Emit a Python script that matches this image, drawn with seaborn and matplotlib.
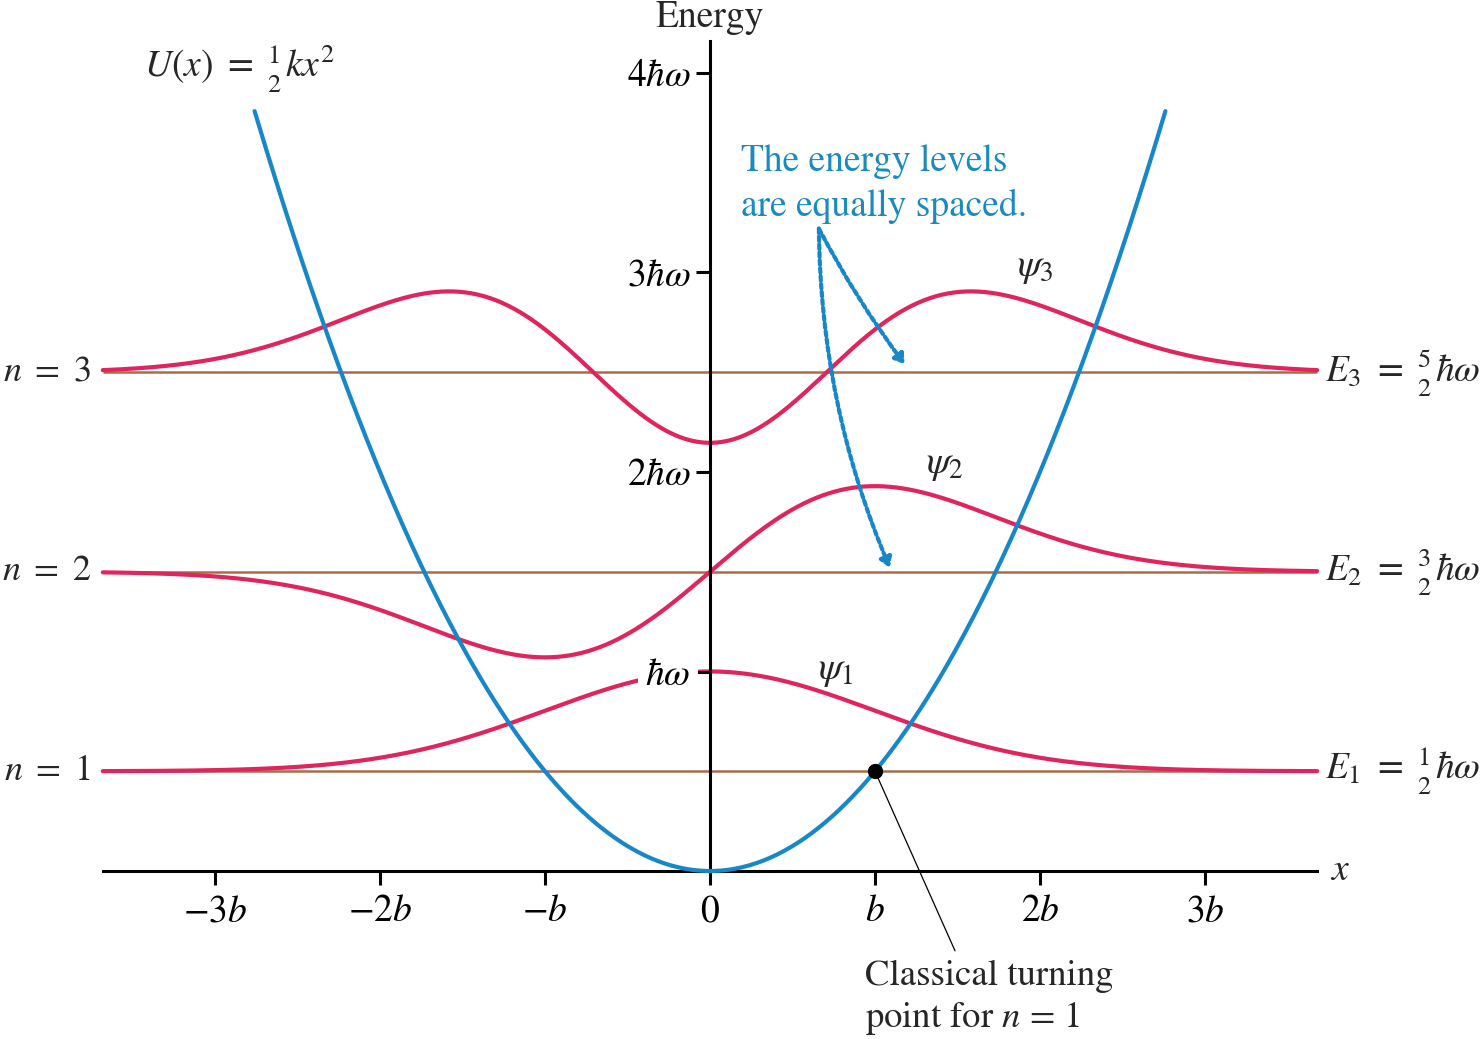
import numpy as np
import matplotlib
matplotlib.use("Agg")
import matplotlib.pyplot as plt
import seaborn as sns

# x is in units of b, energy in units of hbar*omega
x_ticks = [-3, -2, -1, 0, 1, 2, 3]
x_tick_labels = [r'$-3b$', r'$-2b$', r'$-b$', r'$0$', r'$b$', r'$2b$', r'$3b$']
e_ticks = [1, 2, 3, 4]
e_tick_labels = [r'$\hbar\omega$', r'$2\hbar\omega$', r'$3\hbar\omega$', r'$4\hbar\omega$']

n_levels = [1, 2, 3]
E_levels = [0.5, 1.5, 2.5]
E_labels = [r'$E_1\ =\ \genfrac{}{}{0}{}{1}{2}\hbar\omega$',
            r'$E_2\ =\ \genfrac{}{}{0}{}{3}{2}\hbar\omega$',
            r'$E_3\ =\ \genfrac{}{}{0}{}{5}{2}\hbar\omega$']
psi_labels = [r'$\psi_1$', r'$\psi_2$', r'$\psi_3$']
psi_label_pos = [(0.76, 1.0), (1.42, 2.03), (1.97, 3.02)]
psi_scale = 0.666      # drawn height of psi, in hbar*omega
level_halfwidth = 3.68  # level lines run from -3.68b to 3.68b
U_halfwidth = 2.76      # potential curve drawn up to +-2.76b

BLUE = '#1787c8'
TEXT_BLUE = '#1a8bc0'
RED = '#e0245c'
BROWN = '#a86c4c'

sns.set_style("white")
plt.rcParams['font.family'] = ['STIXGeneral', 'DejaVu Sans']
plt.rcParams['mathtext.fontset'] = 'stix'

fig = plt.figure(figsize=(14.8, 10.39), dpi=100)
ax = fig.add_axes([0, 0, 1, 1])
ax.set_xlim(-710 / 165, 770 / 165)
ax.set_ylim(-168 / 199.5, 871 / 199.5)
ax.set_axisbelow(False)


def psi(n, x):
    g = np.pi ** -0.25 * np.exp(-x ** 2 / 2)
    if n == 1:
        return g
    if n == 2:
        return np.sqrt(2) * x * g
    return (2 * x ** 2 - 1) / np.sqrt(2) * g


xs = np.linspace(-level_halfwidth, level_halfwidth, 600)
for n, E in zip(n_levels, E_levels):
    ax.hlines(E, -level_halfwidth, level_halfwidth, color=BROWN, lw=1.8, zorder=1)
    sns.lineplot(x=xs, y=E + psi_scale * psi(n, xs), ax=ax, color=RED, lw=3,
                 sort=False, estimator=None, zorder=2)

xu = np.linspace(-U_halfwidth, U_halfwidth, 400)
sns.lineplot(x=xu, y=0.5 * xu ** 2, ax=ax, color=BLUE, lw=3,
             sort=False, estimator=None, zorder=3)

# axes through the origin
for s in ['top', 'right']:
    ax.spines[s].set_visible(False)
ax.spines['left'].set_position(('data', 0))
ax.spines['bottom'].set_position(('data', 0))
ax.spines['left'].set_bounds(0, 4.16)
ax.spines['bottom'].set_bounds(-level_halfwidth, level_halfwidth)
for s in ['left', 'bottom']:
    ax.spines[s].set_linewidth(2.2)
    ax.spines[s].set_color('black')
ax.set_xticks(x_ticks, x_tick_labels)
ax.set_yticks(e_ticks, e_tick_labels)
ax.tick_params(axis='both', direction='out', length=10, width=2.2, colors='black',
               labelsize=27, pad=4, bottom=True, left=True)
ax.tick_params(axis='x', pad=7)
ax.get_yticklabels()[0].set_bbox(dict(facecolor='white', edgecolor='none', pad=5))
ax.grid(False)

ax.text(0, 4.28, 'Energy', ha='center', va='center', fontsize=27)
ax.text(3.76, 0, r'$x$', ha='left', va='center', fontsize=27)
ax.text(-2.85, 4.02, r'$U(x)\ =\ \genfrac{}{}{0}{}{1}{2}kx^2$', ha='center', va='center', fontsize=27)

for n, E, lab in zip(n_levels, E_levels, E_labels):
    ax.text(-3.75, E, r'$n\ =\ %d$' % n, ha='right', va='center', fontsize=26)
    ax.text(3.73, E, lab, ha='left', va='center', fontsize=27)
for lab, (px, py) in zip(psi_labels, psi_label_pos):
    ax.text(px, py, lab, ha='center', va='center', fontsize=28)

ax.text(0.19, 3.645, 'The energy levels\nare equally spaced.', color=TEXT_BLUE,
        ha='left', va='top', fontsize=27, linespacing=1.35)
arrow_kw = dict(arrowstyle='-|>,head_length=0.55,head_width=0.35', color=BLUE, lw=3,
                linestyle=(0, (1.1, 0.8)), shrinkA=0, shrinkB=0)
ax.annotate('', xy=(1.18, 2.54), xytext=(0.66, 3.22),
            arrowprops=dict(connectionstyle='arc3,rad=0.04', **arrow_kw), zorder=4)
ax.annotate('', xy=(1.09, 1.52), xytext=(0.66, 3.22),
            arrowprops=dict(connectionstyle='arc3,rad=0.1', **arrow_kw), zorder=4)

# classical turning point
ax.plot([1, 1.485], [0.5, -0.40], color='black', lw=0.9, zorder=4)
ax.plot([1], [0.5], 'o', color='black', ms=10, zorder=5)
ax.text(0.94, -0.445, 'Classical turning\npoint for $n$ = 1', ha='left', va='top',
        fontsize=26.5, linespacing=1.2)

fig.savefig('out.png', dpi=100)
